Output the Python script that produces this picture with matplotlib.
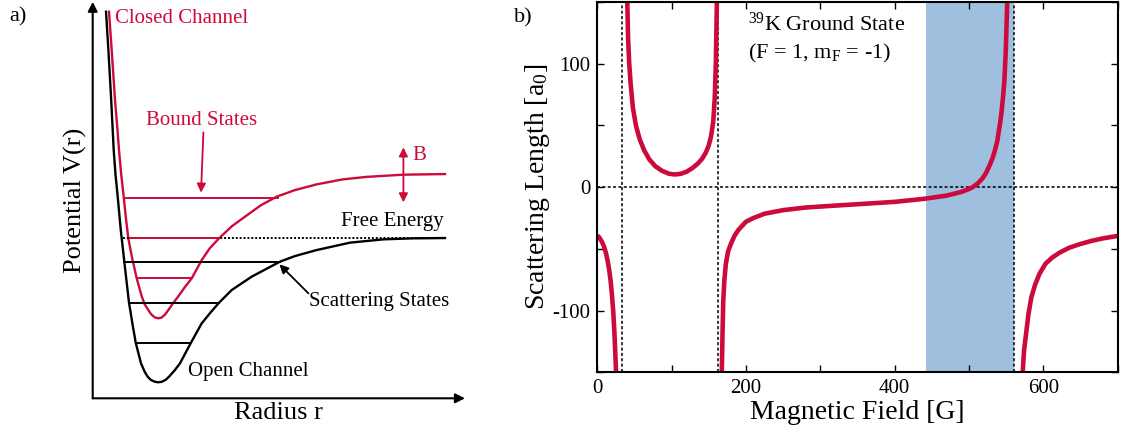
import numpy as np
import matplotlib
matplotlib.use('Agg')
import matplotlib.pyplot as plt
from matplotlib.ticker import MultipleLocator

plt.rcParams['font.family'] = ['Liberation Serif', 'DejaVu Serif']
plt.rcParams['mathtext.fontset'] = 'custom'
plt.rcParams['mathtext.rm'] = 'Liberation Serif'
plt.rcParams['mathtext.it'] = 'Liberation Serif:italic'
plt.rcParams['axes.unicode_minus'] = False

RED = '#cc0a3c'
BLUE = '#9ebfdd'

# ---------------- a) schematic potentials (arbitrary units) ----------------
open_r = [1.33, 1.57, 1.85, 2.1, 2.28, 2.5, 2.8, 3.16, 3.63, 4.0, 4.3, 4.83, 5.2, 5.5,
          5.8, 6.2, 6.56, 6.9, 7.3, 7.63, 8.2, 8.73, 9.83, 10.9, 11.8, 12.63, 13.9,
          15.9, 18.73, 20.23, 22.4, 25.73, 29.07, 32.0, 35.23]
open_V = [38.67, 34.83, 29.83, 24.83, 22.4, 20.17, 16.9, 13.67, 9.56, 7.3, 5.57, 3.5,
          2.65, 2.16, 1.85, 1.66, 1.6, 1.65, 1.85, 2.16, 2.8, 3.5, 5.57, 7.5, 8.6, 9.56,
          10.83, 12.17, 13.67, 14.23, 14.83, 15.57, 15.9, 16.0, 16.03]
closed_r = [1.63, 1.9, 2.23, 2.45, 2.63, 2.85, 3.1, 3.3, 3.56, 3.95, 4.4, 4.9, 5.2,
            5.56, 5.85, 6.2, 6.56, 6.9, 7.25, 7.56, 8.1, 8.56, 9.2, 9.9, 10.9, 11.7,
            12.63, 13.9, 15.23, 16.8, 18.4, 20.23, 22.4, 25.0, 27.4, 31.07, 35.23]
closed_V = [38.67, 34.83, 29.83, 27.2, 24.83, 22.4, 20.17, 18.2, 16.0, 14.0, 12.0, 10.2,
            9.4, 8.83, 8.4, 8.1, 8.0, 8.08, 8.4, 8.83, 9.6, 10.2, 11.1, 12.0, 13.83,
            15.0, 16.0, 17.2, 18.17, 19.3, 20.17, 20.83, 21.4, 21.9, 22.15, 22.37, 22.43]
# bound state levels: (energy, r_left, r_right)
closed_levels = [(20.07, 3.16, 18.5), (16.0, 3.73, 12.63), (12.0, 4.5, 9.9)]
open_levels = [(13.67, 3.16, 18.73), (9.56, 3.63, 12.63), (5.57, 4.5, 9.83)]
free_energy = (16.0, 3.06, 35.23)

# ---------------- b) 39K scattering length ----------------
resonances = [33.6, 162.0, 560.0]
band = (442.7, 560.0)
seg1_B = [0, 3, 6, 9, 12, 14, 16, 18, 20, 21.5, 23, 24, 25.3]
seg1_a = [-39, -41, -44, -48, -54, -60, -67, -76, -89, -101, -117, -131, -150]
seg2_B = [40.4, 41.5, 43, 45, 48, 52, 57, 63, 70, 78, 87, 96, 104, 112, 120, 128,
          135, 141, 146, 150, 153, 156, 158, 159.5, 160.9]
seg2_a = [150, 120, 100, 83, 64, 50, 39, 30, 22.5, 17, 13.3, 11, 10.3, 10.8, 12.5, 15.5,
          19, 23, 28, 34, 41, 53, 72, 100, 150]
seg3_B = [167.5, 168.5, 169.5, 171, 173, 176, 180, 185, 190, 200, 210, 225, 250, 280,
          310, 350, 400, 440, 470, 490, 498, 505, 512, 518, 523, 528, 532, 535, 538,
          540, 542, 544, 546, 547.5, 549.5, 551.5]
seg3_a = [-150, -118, -92, -75, -62, -52, -45.5, -39, -34.5, -28, -25, -21.5, -18.6, -16.5,
          -15.3, -13.8, -11.9, -9.4, -6.8, -3.8, -2.0, 0, 3.2, 7, 11.5, 18, 24, 30, 37,
          45, 52, 62, 74, 85, 110, 150]
seg4_B = [572.3, 574, 577, 580, 584, 589, 595, 603, 612, 622, 635, 650, 665, 680, 700]
seg4_a = [-150, -133, -118, -103, -89, -79, -70, -62, -57, -53, -49, -46, -43.5, -41.5, -39.5]

fig = plt.figure(figsize=(11.21, 4.32), dpi=100)

# ======== left panel ========
ax1 = fig.add_axes([0.0827, 0.078, 0.3321, 0.918])
ax1.set_xlim(0, 37.23)
ax1.set_ylim(0, 39.67)
ax1.axis('off')

ax1.annotate('', xy=(37.23, 0), xytext=(0, 0), annotation_clip=False,
             arrowprops=dict(arrowstyle='-|>', color='k', lw=1.5, mutation_scale=14,
                             shrinkA=0, shrinkB=0))
ax1.annotate('', xy=(0, 39.67), xytext=(0, 0), annotation_clip=False,
             arrowprops=dict(arrowstyle='-|>', color='k', lw=1.5, mutation_scale=14,
                             shrinkA=0, shrinkB=0))

ax1.plot(open_r, open_V, color='k', lw=1.7)
ax1.plot(closed_r, closed_V, color=RED, lw=1.7)
for E, r0, r1 in open_levels:
    ax1.plot([r0, r1], [E, E], color='k', lw=1.4)
ax1.plot([free_energy[1], free_energy[2]], [free_energy[0]] * 2, color='k', lw=1.4,
         linestyle=(0, (1.0, 1.0)))
for E, r0, r1 in closed_levels:
    ax1.plot([r0, r1], [E, E], color=RED, lw=1.4)

ax1.text(2.23, 38.0, 'Closed Channel', color=RED, fontsize=15, va='center', ha='left')
ax1.text(10.9, 27.83, 'Bound States', color=RED, fontsize=15, va='center', ha='center')
ax1.annotate('', xy=(10.83, 20.57), xytext=(11.07, 26.6),
             arrowprops=dict(arrowstyle='-|>', color=RED, lw=1.3, mutation_scale=13,
                             shrinkA=0, shrinkB=0))
ax1.annotate('', xy=(31.07, 19.6), xytext=(31.07, 25.1),
             arrowprops=dict(arrowstyle='<|-|>', color=RED, lw=1.3, mutation_scale=13,
                             shrinkA=0, shrinkB=0))
ax1.text(32.0, 24.33, 'B', color=RED, fontsize=15, va='center', ha='left')
ax1.text(30.0, 17.67, 'Free Energy', color='k', fontsize=15, va='center', ha='center')
ax1.text(28.67, 9.67, 'Scattering States', color='k', fontsize=15, va='center', ha='center')
ax1.annotate('', xy=(18.67, 13.4), xytext=(21.57, 10.5),
             arrowprops=dict(arrowstyle='-|>', color='k', lw=1.3, mutation_scale=13,
                             shrinkA=0, shrinkB=0))
ax1.text(15.57, 2.67, 'Open Channel', color='k', fontsize=15, va='center', ha='center')
ax1.text(-1.77, 19.83, 'Potential V(r)', fontsize=19, rotation=90, va='center', ha='center')
ax1.text(18.53, -1.47, 'Radius r', fontsize=19, va='center', ha='center')

fig.text(18 / 1121, 1 - 17 / 432, 'a)', fontsize=16, va='center', ha='center')
fig.text(523 / 1121, 1 - 18 / 432, 'b)', fontsize=16, va='center', ha='center')

# ======== right panel ========
ax2 = fig.add_axes([0.5328, 0.1382, 0.4642, 0.857])
ax2.axvspan(band[0], band[1], color=BLUE, lw=0, zorder=0)
for B0 in resonances:
    ax2.axvline(B0, color='k', lw=1.1, linestyle=(0, (2, 1.5)), zorder=1)
ax2.axhline(0, color='k', lw=1.1, linestyle=(0, (2, 1.5)), zorder=1)
for B, a in [(seg1_B, seg1_a), (seg2_B, seg2_a), (seg3_B, seg3_a), (seg4_B, seg4_a)]:
    ax2.plot(B, a, color=RED, lw=3.3, solid_capstyle='butt', zorder=2)

ax2.set_xlim(0, 700)
ax2.set_ylim(-150, 150)
ax2.xaxis.set_major_locator(MultipleLocator(200))
ax2.xaxis.set_minor_locator(MultipleLocator(100))
ax2.yaxis.set_major_locator(MultipleLocator(100))
ax2.yaxis.set_minor_locator(MultipleLocator(50))
ax2.tick_params(which='both', direction='in', top=True, right=True, length=5,
                width=1.0, labelsize=15, pad=5)
for s in ax2.spines.values():
    s.set_linewidth(1.5)
ax2.set_xlabel('Magnetic Field [G]', fontsize=20, labelpad=1)
fig.text(537 / 1121, 1 - 187 / 432, 'Scattering Length [a$_0$]', fontsize=20,
         rotation=90, va='center', ha='center')

ax2.text(203, 127, '$^{39}$K Ground State', fontsize=16, va='baseline', ha='left')
ax2.text(203, 104.5, '(F = 1, m$_{\\rm F}$ = -1)', fontsize=16, va='baseline', ha='left')

fig.savefig('out.png', dpi=100)
